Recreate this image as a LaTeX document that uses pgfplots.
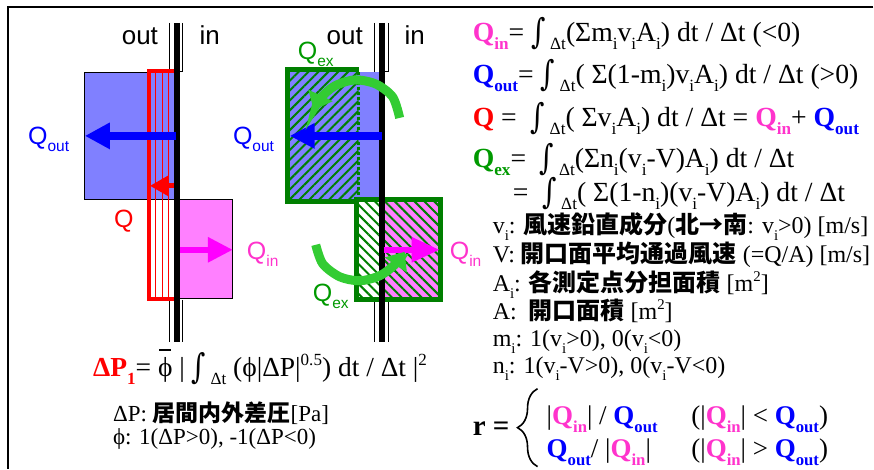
\documentclass[border=0pt]{standalone}
\usepackage{fontspec}
\setmainfont{Liberation Serif}
\newfontfamily\arial{Liberation Sans}
\newfontfamily\cjk{Noto Sans CJK JP}
\newfontfamily\djs{DejaVu Serif}
\usepackage{graphicx}
\usepackage{pgfplots}
\pgfplotsset{compat=1.18}
\usetikzlibrary{arrows.meta,patterns.meta,decorations.pathreplacing}
\definecolor{qin}{HTML}{FF33CC}
\definecolor{qout}{HTML}{0000FF}
\definecolor{qex}{HTML}{009900}
\definecolor{bluebox}{HTML}{8080FF}
\definecolor{pinkbox}{HTML}{FF80FF}
\definecolor{dgreen}{HTML}{007F00}
\definecolor{lgreen}{HTML}{33CC33}
\definecolor{mag}{HTML}{FF00FF}
\newcommand\sbs[1]{\raisebox{-0.28em}{\scalebox{0.62}{#1}}}
\newcommand\sps[1]{\raisebox{0.42em}{\scalebox{0.62}{#1}}}
\newcommand\Qin{\textcolor{qin}{\textbf{Q}\sbs{\textbf{in}}}}
\newcommand\Qout{\textcolor{qout}{\textbf{Q}\sbs{\textbf{out}}}}
\newcommand\Qex{\textcolor{qex}{\textbf{Q}\sbs{\textbf{ex}}}}
\newcommand\fs[1]{\fontsize{#1}{#1}\selectfont}
\newcommand\jp[1]{{\cjk\bfseries #1}}
\newcommand\integ{\raisebox{-0.06em}{\scalebox{1}[1.25]{\djs ∫}}\,}
\begin{document}
\begin{tikzpicture}
\begin{axis}[width=874pt, height=469pt, scale only axis,
  xmin=0, xmax=874, ymin=0, ymax=469, y dir=reverse,
  hide axis, clip=false]
\path (rel axis cs:0,0) rectangle (rel axis cs:1,1);
% frame
\addplot[black, line width=1.5pt] coordinates {(874,7) (8,7) (8,469)};
% ---------- left diagram ----------
\addplot[black, line width=1pt] coordinates {(170,23) (170,72)};
\addplot[black, line width=1pt] coordinates {(183,23) (183,72) (179,72)};
\addplot[black, line width=1pt] coordinates {(170,300) (170,342)};
\addplot[black, line width=1pt] coordinates {(183,300) (183,342)};
\addplot[fill=bluebox, draw=black, line width=0.8pt] coordinates {(84,72) (176,72) (176,200) (84,200)} -- cycle;
\addplot[fill=pinkbox, draw=black, line width=0.8pt] coordinates {(178,200) (233,200) (233,299) (178,299)} -- cycle;
\addplot[red, line width=0.8pt] coordinates {(156,70) (156,301)};
\addplot[red, line width=0.8pt] coordinates {(163,70) (163,301)};
\addplot[red, line width=0.8pt] coordinates {(169,70) (169,301)};
\addplot[red, line width=4pt] coordinates {(175,71) (149,71) (149,299) (175,299)};
\addplot[black, line width=6pt] coordinates {(177,23) (177,342)};
\addplot[qout, line width=8pt, -{Triangle[length=25pt,width=25pt]}] coordinates {(176,136) (85,136)};
\addplot[red, line width=5pt, -{Triangle[length=19pt,width=20pt]}] coordinates {(174,186) (150,186)};
\addplot[mag, line width=6pt, -{Triangle[length=25pt,width=24pt]}] coordinates {(180,250) (233,250)};
\node[anchor=base, inner sep=0] at (axis cs:140,45) {\arial\fs{26}out};
\node[anchor=base, inner sep=0] at (axis cs:210,45) {\arial\fs{26}in};
\node[anchor=base west, inner sep=0] at (axis cs:28,145) {\arial\fs{25}\color{qout}Q\sbs{out}};
\node[anchor=base, inner sep=0] at (axis cs:124,228) {\arial\fs{25}\color{red}Q};
\node[anchor=base west, inner sep=0] at (axis cs:247,260) {\arial\fs{25}\color{qin}Q\sbs{in}};
% ---------- right diagram ----------
\addplot[black, line width=1pt] coordinates {(375,23) (375,72)};
\addplot[black, line width=1pt] coordinates {(389,23) (389,72) (384,72)};
\addplot[black, line width=1pt] coordinates {(375,300) (375,342)};
\addplot[black, line width=1pt] coordinates {(389,300) (389,342)};
\addplot[fill=bluebox, draw=none] coordinates {(288,72) (381,72) (381,200) (288,200)} -- cycle;
\addplot[fill=pinkbox, draw=none] coordinates {(381,200) (441,200) (441,300) (381,300)} -- cycle;
\addplot[draw=none, pattern={Lines[angle=45,distance=7pt,line width=2pt]}, pattern color=dgreen] coordinates {(288,70) (359,70) (359,202) (288,202)} -- cycle;
\addplot[draw=none, pattern={Lines[angle=-45,distance=7pt,line width=2pt]}, pattern color=dgreen] coordinates {(357,200) (441,200) (441,300) (357,300)} -- cycle;
\addplot[dgreen, line width=5pt] coordinates {(359,70) (288,70) (288,202) (359,202)};
\addplot[dgreen, line width=3pt, dotted] coordinates {(359,72) (359,200)};
\addplot[dgreen, line width=5pt] coordinates {(357,200) (441,200) (441,300) (357,300)} -- cycle;
\addplot[black, line width=6pt] coordinates {(382,23) (382,342)};
\addplot[qout, line width=8pt, -{Triangle[length=25pt,width=24pt]}] coordinates {(382,136) (290,136)};
\addplot[mag, line width=6pt, -{Triangle[length=28pt,width=24pt]}] coordinates {(384,250) (440,250)};
\addplot[lgreen, line width=9pt, smooth, -{Triangle[length=16pt,width=26pt]}] coordinates {(400,118) (393,97) (376,84) (355,80) (335,86) (321,98) (314,110)};
\addplot[lgreen, line width=9pt, smooth, -{Triangle[length=16pt,width=26pt]}] coordinates {(316,245) (323,264) (340,277) (360,281) (380,276) (395,265) (405,252)};
\node[anchor=base, inner sep=0] at (axis cs:345,45) {\arial\fs{26}out};
\node[anchor=base, inner sep=0] at (axis cs:415,45) {\arial\fs{26}in};
\node[anchor=base west, inner sep=0] at (axis cs:298,60) {\arial\fs{25}\color{qex}Q\sbs{ex}};
\node[anchor=base west, inner sep=0] at (axis cs:313,302) {\arial\fs{25}\color{qex}Q\sbs{ex}};
\node[anchor=base west, inner sep=0] at (axis cs:233,145) {\arial\fs{25}\color{qout}Q\sbs{out}};
\node[anchor=base west, inner sep=0] at (axis cs:450,260) {\arial\fs{25}\color{qin}Q\sbs{in}};
% ---------- equations ----------
\node[anchor=base west, inner sep=0] at (axis cs:473,42) {\fs{27.7}\Qin= \integ\sbs{Δt}(Σm\sbs{i}v\sbs{i}A\sbs{i}) dt / Δt (<0)};
\node[anchor=base west, inner sep=0] at (axis cs:473,84) {\fs{27.7}\Qout= \integ\sbs{Δt}( Σ(1-m\sbs{i})v\sbs{i}A\sbs{i}) dt / Δt (>0)};
\node[anchor=base west, inner sep=0] at (axis cs:473,127) {\fs{27.7}\textcolor{red}{\textbf{Q}} = \ \integ\sbs{Δt}( Σv\sbs{i}A\sbs{i}) dt / Δt = \Qin+ \Qout};
\node[anchor=base west, inner sep=0] at (axis cs:473,168) {\fs{27.7}\Qex= \ \integ\sbs{Δt}(Σn\sbs{i}(v\sbs{i}-V)A\sbs{i}) dt / Δt};
\node[anchor=base west, inner sep=0] at (axis cs:513,202) {\fs{27.7}= \ \integ\sbs{Δt}( Σ(1-n\sbs{i})(v\sbs{i}-V)A\sbs{i}) dt / Δt};
\node[anchor=base west, inner sep=0] at (axis cs:493,234) {\fs{24}v\sbs{i}: \jp{風速鉛直成分}(\jp{北→南}: v\sbs{i}>0) [m/s]};
\node[anchor=base west, inner sep=0] at (axis cs:493,263) {\fs{24}V: \jp{開口面平均通過風速} (=Q/A) [m/s]};
\node[anchor=base west, inner sep=0] at (axis cs:493,292) {\fs{24}A\sbs{i}: \jp{各測定点分担面積} [m\sps{2}]};
\node[anchor=base west, inner sep=0] at (axis cs:493,320) {\fs{24}A: \ \jp{開口面積} [m\sps{2}]};
\node[anchor=base west, inner sep=0] at (axis cs:493,347) {\fs{24}m\sbs{i}: 1(v\sbs{i}>0), 0(v\sbs{i}<0)};
\node[anchor=base west, inner sep=0] at (axis cs:493,374) {\fs{24}n\sbs{i}: 1(v\sbs{i}-V>0), 0(v\sbs{i}-V<0)};
% dP1
\node[anchor=base west, inner sep=0] at (axis cs:93,377) {\fs{27.5}\textcolor{red}{\textbf{ΔP\sbs{1}}}= \ooalign{ϕ\cr\hidewidth\raisebox{0.95em}{\rule{0.45em}{0.06em}}\hidewidth\cr} | \integ\sbs{Δt} (ϕ|ΔP|\sps{0.5}) dt / Δt |\sps{2}};
\node[anchor=base west, inner sep=0] at (axis cs:113,422) {\fs{23}ΔP: \jp{居間内外差圧}[Pa]};
\node[anchor=base west, inner sep=0] at (axis cs:113,445) {\fs{23}ϕ: 1(ΔP>0), -1(ΔP<0)};
% r
\node[anchor=base west, inner sep=0] at (axis cs:473,436) {\fs{29}\textbf{r =}};
\draw[decorate, decoration={brace, amplitude=20pt, aspect=0.5}, line width=1.6pt] (axis cs:538,467) -- (axis cs:538,389);
\node[anchor=base west, inner sep=0] at (axis cs:547,425) {\fs{27}|\Qin| / \Qout \quad\ (|\Qin| < \Qout)};
\node[anchor=base west, inner sep=0] at (axis cs:547,458) {\fs{27}\Qout / |\Qin| \quad\ (|\Qin| > \Qout)};
\end{axis}
\end{tikzpicture}
\end{document}
